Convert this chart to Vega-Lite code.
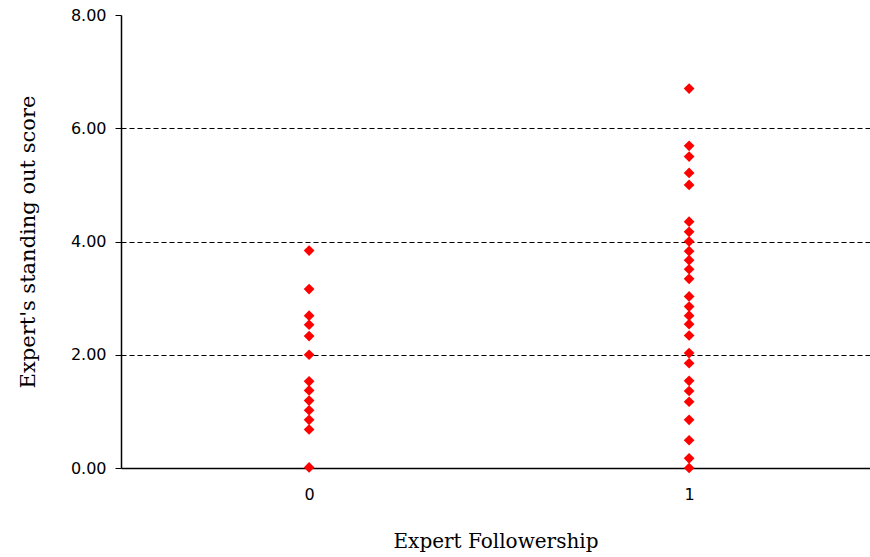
{
  "$schema": "https://vega.github.io/schema/vega-lite/v6.json",
  "width": 749,
  "height": 453,
  "autosize": {"type": "none"},
  "padding": {"left": 121, "top": 15, "right": 0, "bottom": 89},
  "background": "white",
  "config": {"view": {"stroke": null}},
  "data": {
    "values": [
      {"follow": 0, "score": 3.84}, {"follow": 0, "score": 3.16}, {"follow": 0, "score": 2.69},
      {"follow": 0, "score": 2.53}, {"follow": 0, "score": 2.33}, {"follow": 0, "score": 2.0},
      {"follow": 0, "score": 1.53}, {"follow": 0, "score": 1.37}, {"follow": 0, "score": 1.19},
      {"follow": 0, "score": 1.02}, {"follow": 0, "score": 0.85}, {"follow": 0, "score": 0.68},
      {"follow": 0, "score": 0.01},
      {"follow": 1, "score": 6.70}, {"follow": 1, "score": 5.69}, {"follow": 1, "score": 5.50},
      {"follow": 1, "score": 5.21}, {"follow": 1, "score": 5.00}, {"follow": 1, "score": 4.35},
      {"follow": 1, "score": 4.17}, {"follow": 1, "score": 4.00}, {"follow": 1, "score": 3.83},
      {"follow": 1, "score": 3.67}, {"follow": 1, "score": 3.51}, {"follow": 1, "score": 3.34},
      {"follow": 1, "score": 3.03}, {"follow": 1, "score": 2.85}, {"follow": 1, "score": 2.69},
      {"follow": 1, "score": 2.54}, {"follow": 1, "score": 2.34}, {"follow": 1, "score": 2.03},
      {"follow": 1, "score": 1.85}, {"follow": 1, "score": 1.54}, {"follow": 1, "score": 1.36},
      {"follow": 1, "score": 1.17}, {"follow": 1, "score": 0.85}, {"follow": 1, "score": 0.49},
      {"follow": 1, "score": 0.17}, {"follow": 1, "score": 0.0}
    ]
  },
  "mark": {"type": "point", "shape": "diamond", "filled": true, "color": "#FF0000", "size": 115, "opacity": 1},
  "encoding": {
    "x": {
      "field": "follow", "type": "quantitative",
      "scale": {"domain": [-0.495, 1.476], "nice": false, "zero": false},
      "axis": {
        "title": "Expert Followership",
        "values": [0, 1], "format": "d",
        "grid": false, "ticks": false,
        "domainColor": "black", "domainWidth": 1.5,
        "labelFont": "DejaVu Sans", "labelFontSize": 16, "labelColor": "black",
        "labelPadding": 18,
        "titleFont": "DejaVu Serif", "titleFontSize": 20, "titleFontWeight": "normal", "titleColor": "black",
        "titlePadding": 29
      }
    },
    "y": {
      "field": "score", "type": "quantitative",
      "scale": {"domain": [0, 8], "nice": false},
      "axis": {
        "title": "Expert's standing out score",
        "values": [0, 2, 4, 6, 8], "format": ".2f",
        "grid": true, "gridColor": "black", "gridDash": [5, 3], "gridWidth": 1,
        "gridOpacity": {"condition": {"test": "datum.value == 0 || datum.value == 8", "value": 0}, "value": 1},
        "tickColor": "black", "tickSize": 6, "tickWidth": 1,
        "domainColor": "black", "domainWidth": 1.5,
        "labelFont": "DejaVu Sans", "labelFontSize": 16, "labelColor": "black",
        "labelPadding": 9,
        "titleFont": "DejaVu Serif", "titleFontSize": 21, "titleFontWeight": "normal", "titleColor": "black",
        "titlePadding": 32
      }
    }
  }
}
